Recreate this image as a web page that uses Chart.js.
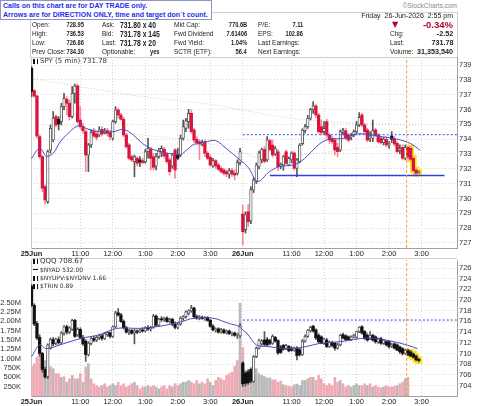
<!DOCTYPE html>
<html>
<head>
<meta charset="utf-8">
<title>SPY 5 min</title>
<script src="https://cdn.jsdelivr.net/npm/chart.js@4.4.1/dist/chart.umd.min.js"></script>
<style>
  body { margin:0; width:480px; height:406px; position:relative; overflow:hidden; background:#fff;
         font-family:"Liberation Sans", Arial, sans-serif; color:#222; }
  canvas { position:absolute; left:0; }
  #spyChart { top:55px; }
  #qqqChart { top:259px; }
  .t { position:absolute; white-space:nowrap; line-height:10px; font-size:6.5px; z-index:3; }
  .b { font-weight:bold; }
  .vr { font-weight:bold; transform:scaleX(0.76); transform-origin:right center; }
  .vl { font-weight:bold; transform:scaleX(0.8); transform-origin:left center; }
  .vb { font-weight:bold; transform:scaleX(0.9); transform-origin:right center; }
  #calls { position:absolute; left:0; top:0; width:208px; height:17px; border:1px solid #8f93c4; background:#fff;
           z-index:6; color:#1f2fe6; font-weight:bold; font-size:7px; line-height:8.5px; padding:1px 0 0 2px; }
  #head { position:absolute; left:30px; top:12px; width:426px; height:44px; border:1px solid #cfcfcf; background:#fff; }
  #sep { position:absolute; left:31px; top:258px; width:426px; height:1px; background:#cfcfcf; }
  .leg { position:absolute; white-space:nowrap; font-family:"DejaVu Sans", sans-serif; color:#333; z-index:3; }
  .ic { display:inline-block; width:2px; height:5px; border-left:2px solid #111; border-right:1px solid #111; margin-right:2px; vertical-align:-1px; }
  .dash { display:inline-block; width:5px; height:0; border-top:1px solid #111; margin-right:2px; vertical-align:2px; }
</style>
</head>
<body>
<div id="head"></div>
<div id="sep"></div>
<canvas id="spyChart" width="480" height="205"></canvas>
<canvas id="qqqChart" width="480" height="147"></canvas>

<div id="calls">Calls on this chart are for DAY TRADE only.<br>Arrows are for DIRECTION ONLY, time and target don`t count.</div>

<div class="t" style="right:23px;top:1px;font-size:6.5px;color:#888">©StockCharts.com</div>
<div class="t" style="right:27px;top:11px;font-size:7px">Friday&nbsp; 26-Jun-2026&nbsp; 2:55 pm</div>

<div class="t" style="left:32px;top:20px">Open:</div>
<div class="t" style="left:32px;top:29px">High:</div>
<div class="t" style="left:32px;top:38px">Low:</div>
<div class="t" style="left:32px;top:47px">Prev Close:</div>
<div class="t vr" style="right:396px;top:20px;font-size:7.5px">728.95</div>
<div class="t vr" style="right:396px;top:29px;font-size:7.5px">736.53</div>
<div class="t vr" style="right:396px;top:38px;font-size:7.5px">726.86</div>
<div class="t vr" style="right:396px;top:47px;font-size:7.5px">734.30</div>

<div class="t" style="left:102px;top:20px">Ask:</div>
<div class="t" style="left:102px;top:29px">Bid:</div>
<div class="t" style="left:102px;top:38px">Last:</div>
<div class="t" style="left:102px;top:47px">Optionable:</div>
<div class="t vl" style="left:120px;top:19.5px;font-size:8.5px">731.80 x 40</div>
<div class="t vl" style="left:120px;top:28.5px;font-size:8.5px">731.78 x 145</div>
<div class="t vl" style="left:120px;top:37.5px;font-size:8.5px">731.78 x 20</div>
<div class="t vr" style="right:320px;top:47px;font-size:7.5px">yes</div>

<div class="t" style="left:174px;top:20px">Mkt Cap:</div>
<div class="t" style="left:174px;top:29px">Fwd Dividend</div>
<div class="t" style="left:174px;top:38px">Fwd Yield:</div>
<div class="t" style="left:174px;top:47px">SCTR (ETF):</div>
<div class="t vr" style="right:233px;top:20px;font-size:7.5px">770.6B</div>
<div class="t vr" style="right:233px;top:29px;font-size:7.5px">7.61406</div>
<div class="t vr" style="right:233px;top:38px;font-size:7.5px">1.04%</div>
<div class="t vr" style="right:233px;top:47px;font-size:7.5px">56.4</div>

<div class="t" style="left:258px;top:20px">P/E:</div>
<div class="t" style="left:258px;top:29px">EPS:</div>
<div class="t" style="left:258px;top:38px">Last Earnings:</div>
<div class="t" style="left:258px;top:47px">Next Earnings:</div>
<div class="t vr" style="right:177px;top:20px;font-size:7.5px">7.11</div>
<div class="t vr" style="right:177px;top:29px;font-size:7.5px">102.86</div>

<div class="t" style="left:392px;top:20px;font-family:'DejaVu Sans';font-size:8px;color:#b0002c">▼</div>
<div class="t b" style="right:27px;top:19.5px;font-size:9.5px;color:#b0002c">-0.34%</div>
<div class="t" style="left:390px;top:29px">Chg:</div>
<div class="t" style="left:390px;top:38px">Last:</div>
<div class="t" style="left:390px;top:47px">Volume:</div>
<div class="t vb" style="right:27px;top:29px;font-size:8px">-2.52</div>
<div class="t vb" style="right:27px;top:38px;font-size:8px">731.78</div>
<div class="t vb" style="right:27px;top:47px;font-size:8px">31,353,540</div>

<div class="leg" style="left:33px;top:57px;font-size:7px;line-height:9px"><span class="ic"></span>SPY (5 min) 731.78</div>
<div class="leg" style="left:33px;top:257px;font-size:7px;line-height:8px"><span class="ic"></span>QQQ 708.67</div>
<div class="leg" style="left:33px;top:265.5px;font-size:6px;line-height:8px"><span class="dash"></span>$NYAD 532.00</div>
<div class="leg" style="left:33px;top:273.5px;font-size:6px;line-height:8px"><span class="ic"></span>$NYUPV:$NYDNV 1.66</div>
<div class="leg" style="left:33px;top:282px;font-size:6px;line-height:8px"><span class="ic"></span>$TRIN 0.89</div>

<script>
// x axis: one slot per 5-minute bar, 25 Jun 9:30 = slot 0, 26 Jun 9:30 = slot 78
const tickSlots  = [0, 18, 30, 42, 54, 66, 78, 96, 108, 120, 132, 144];
const tickLabels = ['25Jun', '11:00', '12:00', '1:00', '2:00', '3:00', '26Jun', '11:00', '12:00', '1:00', '2:00', '3:00'];
const daySlots   = [0, 78];

const spyTicks = [727, 728, 729, 730, 731, 732, 733, 734, 735, 736, 737, 738, 739];
const qqqTicks = [704, 706, 708, 710, 712, 714, 716, 718, 720, 722, 724, 726];
const volTicks = [250000, 500000, 750000, 1000000, 1250000, 1500000, 1750000, 2000000, 2250000, 2500000];

// SPY 5 min, 25 Jun (78 bars) then 26 Jun (66 bars)
const spyOpen = [738.78, 737.27, 736.91, 734.17, 732.82, 730.80, 729.79, 733.27, 733.94, 735.52,
  735.34, 735.18, 736.19, 736.69, 736.42, 735.52, 737.09, 737.59, 735.29, 734.84,
  734.51, 732.93, 733.61, 734.51, 734.35, 734.28, 734.66, 734.44, 734.57, 734.44,
  734.06, 735.18, 735.97, 735.63, 735.34, 734.28, 733.61, 732.82, 732.48, 732.71,
  732.60, 732.55, 732.48, 733.16, 733.32, 732.82, 732.19, 732.82, 733.16, 733.32,
  733.00, 732.60, 732.19, 733.27, 732.93, 732.93, 734.06, 734.73, 735.18, 735.74,
  734.62, 733.99, 733.83, 733.67, 733.83, 733.05, 732.78, 732.19, 732.55, 732.26,
  732.03, 731.92, 731.81, 731.65, 731.88, 731.70, 731.70, 732.42,
  728.95, 727.90, 729.10, 728.50, 730.57, 731.13, 732.14, 732.60, 733.30, 732.60,
  733.90, 733.60, 733.00, 733.15, 732.20, 732.26, 733.15, 732.26, 732.60, 733.07,
  732.04, 732.48, 733.70, 734.57, 734.84, 735.41, 736.01, 736.24, 735.63, 734.84,
  734.51, 735.18, 734.28, 734.06, 733.94, 733.45, 733.27, 734.44, 734.57, 734.28,
  734.12, 734.28, 734.51, 734.96, 735.63, 734.96, 734.62, 734.06, 734.06, 734.62,
  734.28, 734.06, 733.77, 733.99, 733.61, 734.21, 733.99, 733.72, 733.23, 733.45,
  732.71, 733.45, 733.38, 732.71, 731.92, 731.74];
const spyHigh = [738.89, 737.36, 736.98, 734.28, 732.93, 730.91, 733.27, 734.96, 735.86, 735.63,
  735.52, 736.42, 737.09, 736.87, 736.64, 737.54, 737.72, 737.72, 736.19, 735.07,
  734.62, 733.72, 734.62, 734.73, 734.51, 734.84, 734.84, 734.73, 734.73, 734.62,
  735.29, 736.19, 736.08, 735.74, 735.47, 734.39, 733.72, 732.93, 732.93, 732.82,
  732.82, 732.71, 733.32, 734.06, 733.45, 733.05, 733.05, 733.38, 733.54, 733.45,
  733.09, 732.71, 733.05, 733.38, 733.38, 734.28, 735.29, 735.41, 736.01, 735.97,
  734.73, 734.17, 733.94, 733.94, 733.94, 733.16, 732.93, 732.71, 732.64, 732.37,
  732.15, 732.03, 731.92, 732.03, 732.03, 731.92, 732.60, 733.38,
  729.56, 729.10, 729.60, 730.80, 731.40, 732.40, 733.20, 733.40, 733.50, 734.17,
  734.00, 733.94, 733.50, 733.30, 732.40, 732.90, 733.27, 732.80, 733.15, 733.15,
  732.70, 733.70, 734.70, 735.00, 735.60, 736.08, 736.53, 736.37, 735.74, 735.29,
  735.18, 735.34, 734.39, 734.21, 734.06, 733.72, 734.62, 734.73, 734.73, 734.39,
  734.39, 734.62, 735.18, 735.79, 735.74, 735.07, 734.73, 734.51, 735.29, 734.73,
  734.39, 734.17, 734.12, 734.17, 733.83, 734.51, 734.17, 733.83, 733.61, 733.61,
  733.61, 733.54, 733.49, 732.82, 732.03, 731.85];
const spyLow = [736.87, 736.82, 734.06, 732.71, 730.46, 729.63, 729.67, 733.05, 733.83, 734.84,
  734.62, 734.96, 735.97, 735.63, 735.29, 735.41, 736.42, 735.07, 734.73, 734.39,
  731.81, 731.81, 733.45, 734.12, 733.94, 734.17, 734.21, 734.35, 734.21, 733.94,
  733.94, 735.07, 735.41, 735.29, 734.17, 733.38, 732.60, 732.48, 731.47, 732.19,
  732.15, 732.33, 732.37, 732.71, 731.92, 731.92, 731.92, 732.71, 732.82, 732.71,
  732.37, 731.58, 732.03, 731.36, 732.60, 732.82, 733.94, 734.51, 734.73, 734.39,
  733.77, 733.61, 732.60, 733.54, 732.82, 732.60, 732.15, 732.10, 732.03, 731.88,
  731.70, 731.58, 731.47, 731.36, 731.47, 731.25, 731.58, 732.26,
  726.86, 727.67, 728.10, 728.30, 730.40, 731.00, 732.00, 732.40, 732.40, 732.50,
  733.20, 732.80, 732.90, 731.90, 732.00, 731.90, 732.30, 732.20, 732.40, 731.90,
  731.47, 732.40, 733.60, 734.40, 734.73, 735.30, 735.74, 735.47, 734.39, 734.28,
  734.35, 734.06, 733.72, 733.72, 732.93, 732.82, 733.16, 734.28, 733.94, 733.83,
  733.94, 734.17, 734.39, 734.84, 734.84, 734.39, 733.83, 733.83, 733.83, 734.17,
  733.72, 733.67, 733.61, 733.49, 733.38, 733.77, 733.54, 733.05, 733.00, 732.60,
  732.60, 732.64, 732.55, 731.81, 731.58, 731.70];
const spyClose = [737.20, 736.91, 734.21, 732.82, 730.69, 729.90, 733.16, 734.73, 735.41, 734.96,
  735.02, 736.19, 736.75, 736.42, 735.52, 737.09, 737.59, 735.18, 734.84, 734.57,
  732.93, 733.61, 734.44, 734.21, 734.12, 734.62, 734.35, 734.57, 734.39, 734.17,
  735.18, 735.97, 735.63, 735.34, 734.28, 733.49, 732.71, 732.60, 732.82, 732.37,
  732.46, 732.42, 733.16, 733.38, 732.71, 732.10, 732.82, 733.27, 733.38, 732.87,
  732.48, 731.81, 732.93, 731.92, 732.71, 734.06, 734.84, 735.25, 735.74, 734.51,
  733.94, 733.77, 733.67, 733.81, 733.05, 732.71, 732.26, 732.55, 732.19, 731.97,
  731.81, 731.70, 731.65, 731.88, 731.65, 731.58, 732.42, 733.16,
  727.76, 728.90, 728.43, 730.60, 731.25, 732.26, 733.07, 733.30, 732.50, 733.94,
  733.30, 732.93, 733.35, 732.14, 732.30, 732.82, 732.37, 732.70, 733.07, 732.04,
  732.60, 733.60, 734.60, 734.84, 735.41, 736.01, 736.24, 735.63, 734.51, 734.44,
  734.73, 734.28, 733.94, 733.83, 733.27, 733.16, 734.51, 734.57, 734.06, 733.94,
  734.26, 734.51, 734.96, 735.47, 734.96, 734.51, 733.94, 734.21, 734.57, 734.28,
  733.83, 733.77, 733.99, 733.61, 733.72, 733.99, 733.67, 733.16, 733.38, 732.71,
  733.45, 732.78, 732.64, 731.88, 731.70, 731.78];

// SPY overlays: [slot, price]
const spyMA = [[0, 732.7], [3, 733.4], [5.5, 732.85], [8, 733.05], [10.5, 733.8], [13, 734.3], [16.5, 734.85],
  [18.5, 734.9], [20.5, 734.7], [25, 734.5], [30, 734.5], [34, 734.65], [37.5, 734.3], [41, 733.7], [45, 733.3],
  [48.5, 733.1], [52.5, 733.0], [55, 732.95], [57.5, 733.3], [60, 733.65], [64, 733.8], [68, 733.9], [72, 733.35],
  [77, 732.6], [80, 732.1], [83.5, 731.15], [87.8, 731.8], [91.5, 732.15], [96.4, 732.25], [99.5, 732.5],
  [102, 732.9], [106.5, 733.7], [110, 734.0], [115, 734.05], [120, 734.35], [125, 734.3], [130, 734.15],
  [135, 734.0], [140, 733.7], [143.5, 733.25]];
const spyMAslow = [[8, 735.0], [20, 734.7], [40, 734.3], [60, 733.9], [70, 733.5], [78, 733.1], [85, 732.7],
  [95, 732.8], [110, 733.15], [125, 733.45], [143, 733.7]];
const spyMAlong = [[0, 738.1], [40, 736.9], [68, 736.3], [78, 735.95], [101, 735.3], [143, 734.9]];
const spyPrevClose = 734.30;
const spySupport = 731.55;
const supportFrom = 88, supportTo = 152.5;

// QQQ 5 min
const qqqOpen = [722.6, 719.0, 715.6, 713.0, 710.0, 707.0, 705.6, 711.0, 712.6, 711.9,
  712.6, 712.0, 713.8, 715.0, 714.0, 714.5, 716.2, 713.5, 714.5, 713.0,
  712.3, 709.8, 711.9, 712.8, 712.5, 713.0, 713.3, 712.8, 713.5, 713.9,
  713.2, 715.0, 717.6, 717.2, 716.0, 714.8, 714.0, 714.3, 713.8, 714.2,
  714.0, 714.4, 714.2, 714.8, 714.6, 714.9, 717.0, 715.3, 716.4, 716.3,
  716.6, 716.0, 716.4, 715.5, 714.9, 715.5, 716.6, 716.9, 717.5, 718.0,
  718.5, 716.9, 716.6, 716.8, 716.5, 716.7, 716.2, 715.1, 714.4, 714.6,
  714.0, 714.4, 713.9, 714.2, 713.7, 713.8, 713.4, 713.3,
  708.2, 706.3, 706.6, 707.0, 704.8, 709.4, 711.0, 711.8, 712.5, 712.6,
  712.4, 711.9, 713.0, 712.4, 711.2, 711.5, 710.9, 711.3, 711.0, 710.6,
  711.0, 710.7, 709.8, 712.3, 713.2, 714.3, 715.1, 714.4, 713.4, 713.1,
  711.9, 712.5, 711.3, 712.0, 711.9, 711.0, 711.6, 713.5, 713.3, 713.1,
  712.6, 713.1, 713.0, 714.1, 715.0, 714.1, 713.4, 712.8, 713.4, 713.1,
  712.2, 712.8, 711.9, 712.2, 712.2, 711.3, 711.8, 711.6, 711.2, 710.9,
  710.0, 710.6, 710.3, 709.9, 709.5, 708.9];
const qqqHigh = [722.9, 719.3, 716.0, 713.5, 710.2, 707.4, 711.8, 712.9, 713.0, 712.9,
  713.1, 714.1, 715.2, 715.3, 715.0, 716.4, 716.4, 714.8, 714.8, 713.4,
  712.6, 712.2, 713.1, 713.2, 713.3, 713.6, 713.6, 713.9, 714.1, 714.0,
  715.2, 717.9, 718.4, 717.5, 716.3, 715.1, 714.5, 714.5, 714.5, 714.4,
  714.6, 714.8, 715.0, 715.2, 715.1, 717.3, 717.2, 716.6, 716.9, 716.8,
  716.9, 716.6, 716.6, 715.9, 715.7, 716.9, 717.1, 718.0, 718.2, 719.0,
  718.7, 717.2, 717.1, 717.0, 716.9, 716.9, 716.4, 715.4, 714.8, 714.8,
  714.7, 714.6, 714.4, 714.4, 714.0, 714.0, 713.8, 715.6,
  708.5, 706.6, 707.0, 707.3, 709.6, 711.2, 712.7, 712.6, 714.1, 713.0,
  712.7, 713.5, 713.2, 712.6, 711.5, 711.7, 711.7, 711.5, 711.3, 711.2,
  711.3, 711.0, 712.6, 713.5, 714.5, 715.1, 715.3, 714.6, 713.7, 713.3,
  712.9, 712.8, 712.3, 712.3, 712.1, 711.9, 713.6, 713.8, 713.5, 713.3,
  713.3, 713.6, 714.2, 715.0, 715.2, 714.3, 713.7, 714.1, 713.6, 713.3,
  712.9, 713.0, 712.6, 712.4, 712.4, 711.9, 712.0, 711.8, 711.4, 711.1,
  710.8, 710.8, 710.5, 710.1, 709.7, 709.1];
const qqqLow = [718.8, 715.2, 712.6, 709.5, 706.5, 705.3, 705.3, 710.8, 711.4, 711.6,
  711.7, 711.8, 713.4, 713.6, 713.7, 714.3, 713.0, 713.2, 712.7, 711.5,
  708.5, 709.5, 711.6, 712.2, 712.2, 712.6, 712.5, 712.6, 713.2, 712.9,
  713.0, 714.8, 717.0, 715.8, 714.6, 713.8, 713.5, 713.6, 711.8, 713.7,
  713.9, 714.0, 714.0, 714.3, 714.2, 714.7, 715.0, 715.0, 716.0, 716.0,
  715.8, 715.7, 715.2, 714.6, 714.6, 715.3, 716.2, 716.6, 717.2, 717.7,
  716.6, 716.4, 716.3, 716.4, 716.2, 716.0, 714.9, 714.2, 714.0, 713.8,
  713.8, 713.7, 713.6, 713.5, 713.3, 713.2, 712.8, 713.0,
  703.8, 703.9, 704.2, 704.5, 704.6, 709.2, 710.8, 711.5, 711.4, 711.4,
  711.6, 711.7, 712.1, 709.8, 710.0, 710.6, 710.7, 710.3, 710.4, 710.4,
  708.8, 709.5, 709.6, 712.1, 713.0, 714.0, 714.0, 712.6, 712.0, 711.8,
  711.7, 711.1, 711.1, 711.2, 710.6, 710.8, 711.4, 712.7, 712.4, 712.4,
  712.4, 712.9, 712.8, 713.9, 713.6, 712.6, 712.3, 712.6, 712.3, 711.9,
  711.9, 711.7, 711.7, 711.4, 711.0, 711.1, 710.8, 710.5, 710.0, 709.7,
  709.8, 709.6, 709.4, 709.1, 708.6, 708.4];
const qqqClose = [719.0, 715.5, 712.9, 710.0, 707.0, 705.6, 711.6, 712.6, 711.8, 712.7,
  712.0, 713.8, 715.0, 714.0, 714.8, 716.2, 713.2, 714.5, 713.0, 711.8,
  709.8, 711.9, 712.8, 712.5, 713.0, 713.3, 712.8, 713.7, 713.9, 713.2,
  715.0, 717.6, 717.2, 716.0, 714.8, 714.0, 714.3, 713.8, 714.2, 714.0,
  714.4, 714.2, 714.8, 714.6, 714.9, 717.0, 715.3, 716.4, 716.3, 716.6,
  716.0, 716.4, 715.5, 714.9, 715.5, 716.6, 716.9, 717.8, 718.0, 718.5,
  716.9, 716.6, 716.8, 716.5, 716.7, 716.2, 715.1, 714.4, 714.6, 714.0,
  714.4, 713.9, 714.2, 713.7, 713.8, 713.4, 713.6, 715.2,
  704.3, 704.4, 704.5, 704.8, 709.4, 711.0, 712.5, 712.3, 711.7, 711.6,
  711.9, 713.2, 712.3, 710.1, 710.2, 710.8, 711.5, 710.5, 710.6, 711.0,
  709.6, 709.8, 712.3, 713.2, 714.3, 714.9, 714.2, 712.9, 712.2, 711.9,
  712.7, 711.3, 712.1, 711.5, 711.0, 711.6, 713.4, 712.9, 712.6, 712.6,
  713.1, 713.4, 714.1, 714.9, 713.8, 712.8, 712.5, 713.4, 712.5, 712.2,
  712.7, 711.9, 712.5, 711.6, 711.3, 711.6, 711.0, 710.6, 710.3, 710.0,
  710.6, 709.7, 709.5, 709.3, 708.8, 708.67];
const qqqMA = [[0, 709.4], [3, 711.6], [5.5, 710.9], [10.5, 711.6], [18, 712.8], [25, 713.5], [31.5, 714.7],
  [40, 714.7], [47.5, 715.1], [55, 715.9], [60, 716.6], [67, 716.6], [73, 715.6], [76.5, 715.1], [78, 714.4],
  [79.5, 713.8], [83, 711.6], [87, 711.3], [95.5, 710.9], [101.5, 711.3], [106.5, 711.9], [114, 712.2],
  [124, 712.9], [131, 712.5], [138.5, 711.6], [142.5, 710.9]];
const qqqPrevLine = 716.26;

// volume, in shares; p = down bar (pink), g = up bar (grey), - = not printed yet
const volume = [800000, 865000, 1040000, 1100000, 860000, 950000, 1130000, 790000, 730000, 600000,
  600000, 500000, 520000, 370000, 460000, 550000, 460000, 460000, 600000, 370000,
  775000, 865000, 460000, 330000, 280000, 240000, 280000, 330000, 240000, 280000,
  330000, 280000, 370000, 280000, 330000, 240000, 280000, 330000, 370000, 280000,
  190000, 240000, 240000, 280000, 240000, 280000, 240000, 190000, 240000, 280000,
  190000, 280000, 240000, 330000, 280000, 330000, 370000, 370000, 415000, 370000,
  330000, 415000, 330000, 370000, 330000, 460000, 370000, 280000, 415000, 500000,
  460000, 415000, 550000, 600000, 640000, 800000, 950000, 2480000,
  1300000, 685000, 462000, 551000, 775000, 730000, 596000, 551000, 520000, 480000,
  480000, 435000, 435000, 370000, 400000, 300000, 280000, 260000, 240000, 300000,
  320000, 280000, 415000, 415000, 460000, 500000, 500000, 415000, 550000, 460000,
  330000, 280000, 330000, 280000, 500000, 370000, 415000, 330000, 240000, 280000,
  240000, 280000, 330000, 280000, 280000, 330000, 280000, 330000, 240000, 280000,
  240000, 220000, 240000, 280000, 240000, 240000, 255000, 280000, 330000, 370000,
  460000, 500000, null, null, null, null];
const volDir = 'pppppggpgp' + 'pgpgpgpgpg' + 'pgppppgppg' + 'ggppppppgp' + 'ppggppggpp' +
  'ppgppggggp' + 'ppgpppggpp' + 'pppppppg' +
  'pgpggggggg' + 'gppppgpppg' + 'gggggpgppp' + 'ppppppgppp' + 'ggggppgpgp' + 'ppgppppgpp' + 'gp----';

const markerSlot = 138.5;     // orange time marker
const highlightFrom = 140;    // last bars marked in yellow

// ---------- drawing ----------
const RED = '#dc143c', PINK = '#f08c9f', BLK = '#111', GREYW = '#555';
const xMin = -0.2, xMax = 157.1;
const spyMin = 726.66, spyMax = 739.54;
const qqqMin = 702.03, qqqMax = 727.5;
const volMax = 3640000;

function noPad(s) { s.paddingLeft = 0; s.paddingRight = 0; s.paddingTop = 0; s.paddingBottom = 0; }

function xAxis(h) {
  return {
    type: 'linear', min: xMin, max: xMax, offset: false,
    afterBuildTicks: s => { s.ticks = tickSlots.map(v => ({ value: v })); },
    afterFit: s => { s.height = h; noPad(s); },
    ticks: {
      autoSkip: false, maxRotation: 0, padding: 1, color: '#222',
      callback: v => tickLabels[tickSlots.indexOf(v)],
      font: c => ({ family: 'Liberation Sans', size: 7.5,
        weight: c.tick && daySlots.includes(c.tick.value) ? 'bold' : 'normal' })
    },
    grid: { color: '#d6d6d6', drawTicks: false, offset: false },
    border: { color: '#a0a0a0', dash: [1, 2] }
  };
}

function priceAxis(min, max, ticks) {
  return {
    position: 'right', min: min, max: max,
    afterBuildTicks: s => { s.ticks = ticks.map(v => ({ value: v })); },
    afterFit: s => { s.width = 23; noPad(s); },
    ticks: { padding: 2, color: '#333', font: { family: 'Liberation Sans', size: 7.5 } },
    grid: { color: '#d6d6d6', drawTicks: false },
    border: { color: '#a0a0a0', dash: [1, 2] }
  };
}

function candles(o, h, l, c, colored, yAxisID, pad) {
  const col = o.map((_, k) => colored && k > 0 && c[k] < c[k - 1] ? RED : BLK);
  const hollow = o.map((_, k) => c[k] > o[k]);
  return [{
    type: 'bar', yAxisID, order: 4, grouped: false, barThickness: 6,
    data: o.map((_, k) => k >= highlightFrom ? { x: k, y: [l[k] - pad, h[k] + pad] } : { x: k, y: null }),
    backgroundColor: '#ffe21a'
  }, {
    type: 'bar', yAxisID, order: 3, grouped: false, barThickness: 1,
    data: o.map((_, k) => ({ x: k, y: [l[k], h[k]] })),
    backgroundColor: col.map(cc => cc === RED ? PINK : '#555')
  }, {
    type: 'bar', yAxisID, order: 2, grouped: false, barThickness: 2.6, minBarLength: 1,
    borderSkipped: false,
    data: o.map((_, k) => ({ x: k, y: [o[k], c[k]] })),
    backgroundColor: col.map((cc, k) => hollow[k] ? '#fff' : cc),
    borderColor: col.map(cc => cc === RED ? RED : GREYW),
    borderWidth: hollow.map(v => v ? 0.9 : 0)
  }];
}

function line(points, color, width, dash, yAxisID, order) {
  return {
    type: 'line', yAxisID, order: order, data: points.map(p => ({ x: p[0], y: p[1] })),
    borderColor: color, borderWidth: width, borderDash: dash, pointRadius: 0, tension: 0.35, fill: false
  };
}

const common = {
  responsive: false, animation: false, events: [],
  plugins: { legend: { display: false }, tooltip: { enabled: false } }
};

new Chart(document.getElementById('spyChart'), {
  type: 'bar',
  data: {
    datasets: [
      line([[markerSlot, spyMin], [markerSlot, spyMax]], '#f2a12a', 1, [3, 2], 'y', 0),
      line([[78, spyPrevClose], [xMax, spyPrevClose]], '#3548f0', 1, [2, 2], 'y', 0),
      line([[supportFrom, spySupport], [supportTo, spySupport]], '#2f3fe8', 1.5, [], 'y', 0),
      line(spyMA, '#4b4bc0', 1, [], 'y', 1),
      line(spyMAslow, 'rgba(232,150,160,0.55)', 1, [1, 2], 'y', 5),
      line(spyMAlong, 'rgba(140,200,140,0.6)', 1, [1, 2], 'y', 5),
      ...candles(spyOpen, spyHigh, spyLow, spyClose, true, 'y', 0.09)
    ]
  },
  options: Object.assign({}, common, {
    layout: { autoPadding: false, padding: { top: 2, left: 0, right: 0, bottom: 0 } },
    scales: {
      x: xAxis(12),
      yl: { position: 'left', min: spyMin, max: spyMax, afterFit: s => { s.width = 31; noPad(s); },
            ticks: { display: false }, grid: { display: false }, border: { color: '#c8c8c8' } },
      y: priceAxis(spyMin, spyMax, spyTicks)
    }
  })
});

new Chart(document.getElementById('qqqChart'), {
  type: 'bar',
  data: {
    datasets: [
      line([[markerSlot, qqqMin], [markerSlot, qqqMax]], '#f2a12a', 1, [3, 2], 'y', 0),
      line([[78, qqqPrevLine], [xMax, qqqPrevLine]], '#3548f0', 1, [2, 2], 'y', 0),
      line(qqqMA, '#4b4bc0', 1, [], 'y', 1),
      ...candles(qqqOpen, qqqHigh, qqqLow, qqqClose, false, 'y', 0.3),
      {
        type: 'bar', yAxisID: 'yv', order: 6, grouped: false, barThickness: 2,
        data: volume.map((v, k) => ({ x: k, y: v })),
        backgroundColor: volume.map((v, k) => volDir[k] === 'p' ? '#eeaab4' : '#b9b9b9')
      }
    ]
  },
  options: Object.assign({}, common, {
    layout: { autoPadding: false, padding: { top: 1, left: 0, right: 0, bottom: 0 } },
    scales: {
      x: xAxis(10),
      yv: { position: 'left', min: 0, max: volMax,
            afterBuildTicks: s => { s.ticks = volTicks.map(v => ({ value: v })); },
            afterFit: s => { s.width = 31; noPad(s); },
            ticks: { padding: 2, color: '#333', font: { family: 'Liberation Sans', size: 7.5 },
                     callback: v => v >= 1000000 ? (v / 1000000).toFixed(2) + 'M' : (v / 1000) + 'K' },
            grid: { display: false }, border: { color: '#c8c8c8' } },
      y: priceAxis(qqqMin, qqqMax, qqqTicks)
    }
  })
});
</script>
</body>
</html>
